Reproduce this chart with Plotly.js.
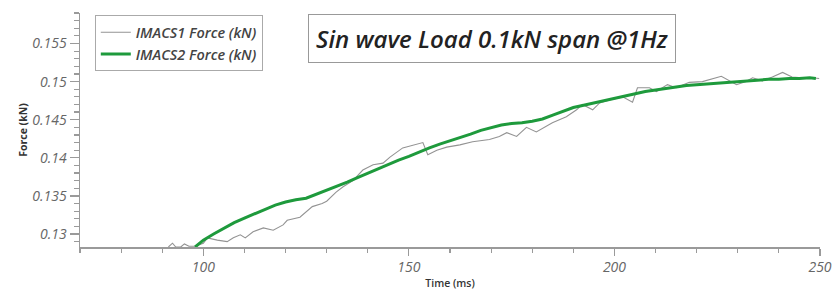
<!DOCTYPE html>
<html>
<head>
<meta charset="utf-8">
<script src="https://cdn.plot.ly/plotly-3.0.1.min.js"></script>
<style>html,body{margin:0;padding:0;background:#fff;}#chart{width:838px;height:291px;}</style>
</head>
<body>
<div id="chart"></div>
<script>
// IMACS1 Force (kN) — gray, noisy
const imacs1Time = [91.5, 92.5, 93.3, 94.5, 95.4, 96.5, 98, 100, 101, 103.4, 105.8, 107.3, 109, 110.2, 112.1, 114.6, 117, 119.4, 120.4, 123.5, 126.5, 128.9, 130, 132.3, 134, 136.4, 138.8, 141.3, 143.7, 145.4, 148.5, 151, 153.4, 154.6, 156.8, 159.2, 162.4, 165.5, 169.6, 172, 173.8, 176.2, 178.6, 181, 183.5, 184.9, 188.3, 190.8, 192.2, 194.7, 196.4, 198.8, 202, 204.4, 205.6, 208.5, 210.2, 212.9, 215, 218.2, 221.4, 226, 229.7, 232, 233.6, 236, 238.4, 240.9, 243.2, 245.6, 248.1, 249.8];
const imacs1Force = [0.1283, 0.1288, 0.1283, 0.1283, 0.1287, 0.1284, 0.1284, 0.1288, 0.1295, 0.1292, 0.1290, 0.1295, 0.1299, 0.1295, 0.1303, 0.1308, 0.1305, 0.1312, 0.1318, 0.1322, 0.1336, 0.1340, 0.1343, 0.1355, 0.1362, 0.1370, 0.1384, 0.1391, 0.1393, 0.1401, 0.1413, 0.1417, 0.1420, 0.1404, 0.1410, 0.1414, 0.1417, 0.1421, 0.1424, 0.1428, 0.1433, 0.1428, 0.1440, 0.1434, 0.1441, 0.1446, 0.1454, 0.1463, 0.1470, 0.1463, 0.1472, 0.1476, 0.1480, 0.1473, 0.1492, 0.1492, 0.1487, 0.1496, 0.1492, 0.1499, 0.1500, 0.1507, 0.1496, 0.1500, 0.1505, 0.1501, 0.1506, 0.1512, 0.1506, 0.1505, 0.1505, 0.1504];

// IMACS2 Force (kN) — green, smooth
const imacs2Time = [98, 100, 102.5, 105, 107.5, 110, 112.5, 115, 117.5, 120, 122.5, 125, 127.5, 130, 132.5, 135, 137.5, 140, 142.5, 145, 147.5, 150, 152.5, 155, 157.5, 160, 162.5, 165, 167.5, 170, 172.5, 175, 177.5, 180, 182.5, 185, 187.5, 190, 192.5, 195, 197.5, 200, 202.5, 205, 207.5, 210, 212.5, 215, 217.5, 220, 222.5, 225, 227.5, 230, 232.5, 235, 237.5, 240, 242.5, 245, 247.5, 249];
const imacs2Force = [0.1283, 0.1292, 0.1300, 0.1308, 0.1315, 0.1321, 0.1327, 0.1332, 0.1338, 0.1342, 0.1345, 0.1347, 0.1352, 0.1358, 0.1363, 0.1368, 0.1374, 0.1380, 0.1386, 0.1392, 0.1397, 0.1402, 0.1408, 0.1413, 0.1418, 0.1422, 0.1427, 0.1431, 0.1436, 0.1440, 0.1443, 0.1445, 0.1446, 0.1448, 0.1451, 0.1456, 0.1461, 0.1466, 0.1469, 0.1472, 0.1475, 0.1478, 0.1481, 0.1484, 0.1487, 0.1489, 0.1491, 0.1493, 0.1495, 0.1496, 0.1497, 0.1498, 0.1499, 0.1500, 0.1501, 0.1502, 0.1503, 0.1503, 0.1504, 0.1504, 0.1505, 0.1504];

const seriesNames = ['IMACS1 Force (kN)', 'IMACS2 Force (kN)'];
const chartTitle = 'Sin wave Load 0.1kN span @1Hz';
const xTitle = 'Time (ms)';
const yTitle = 'Force (kN)';

const tickFont = {family: 'Open Sans, sans-serif', size: 14, color: '#666', style: 'italic'};
const axisCol = '#9a9a9a';

const traces = [
  {x: imacs1Time, y: imacs1Force, name: seriesNames[0], mode: 'lines', type: 'scatter',
   line: {color: '#939393', width: 1.1}},
  {x: imacs2Time, y: imacs2Force, name: seriesNames[1], mode: 'lines', type: 'scatter',
   line: {color: '#1e9a3c', width: 3}}
];

const layout = {
  width: 838, height: 291,
  margin: {l: 80, r: 18, t: 13, b: 44},
  paper_bgcolor: '#fff', plot_bgcolor: '#fff',
  showlegend: true,
  legend: {x: 0.02, y: 0.99, xanchor: 'left', yanchor: 'top',
    bgcolor: '#fff', bordercolor: '#aaa', borderwidth: 1,
    font: {family: 'Open Sans, sans-serif', size: 14.5, color: '#444', style: 'italic', weight: 600},
    itemwidth: 30, tracegroupgap: 0},
  xaxis: {
    range: [70, 250], tick0: 0, dtick: 50,
    showgrid: false, zeroline: false, showline: true, linecolor: axisCol, linewidth: 1.5,
    ticks: 'outside', ticklen: 7, tickcolor: axisCol, tickwidth: 1.2,
    minor: {dtick: 10, ticklen: 4, tickcolor: axisCol, tickwidth: 1.2, ticks: 'outside', showgrid: false},
    tickfont: tickFont,
    title: {text: xTitle, font: {family: 'Open Sans, sans-serif', size: 10.5, color: '#333', weight: 600}, standoff: 4}
  },
  yaxis: {
    range: [0.1283, 0.1590], tick0: 0, dtick: 0.005,
    showgrid: false, zeroline: false, showline: true, linecolor: axisCol, linewidth: 1.5,
    ticks: 'outside', ticklen: 9, tickcolor: axisCol, tickwidth: 1.2,
    minor: {dtick: 0.001, ticklen: 5, tickcolor: axisCol, tickwidth: 1.2, ticks: 'outside', showgrid: false},
    tickfont: tickFont,
    title: {text: yTitle, font: {family: 'Open Sans, sans-serif', size: 10.5, color: '#333', weight: 700}, standoff: 2}
  },
  annotations: [{
    text: chartTitle, xref: 'paper', yref: 'paper', x: 0.557, y: 0.893,
    xanchor: 'center', yanchor: 'middle', showarrow: false,
    font: {family: 'Open Sans, sans-serif', size: 24, color: '#222', style: 'italic', weight: 600},
    bordercolor: '#999', borderwidth: 1, borderpad: 7, bgcolor: '#fff'
  }]
};

Plotly.newPlot('chart', traces, layout, {displayModeBar: false, staticPlot: true});
</script>
</body>
</html>
